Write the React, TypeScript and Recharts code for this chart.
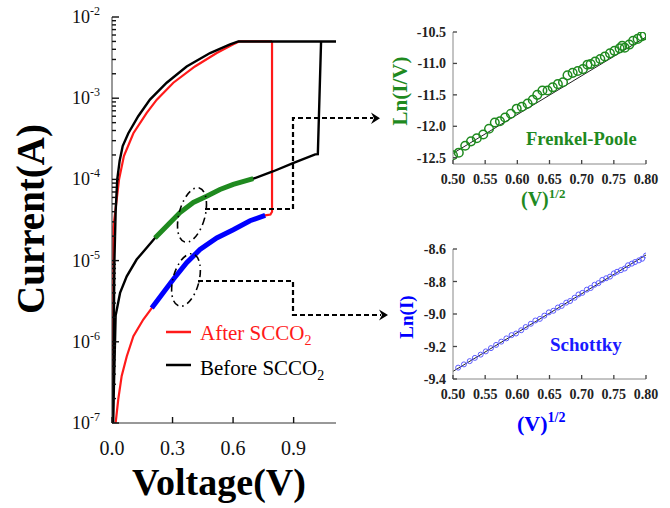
import { ComposedChart, Line, Scatter, XAxis, YAxis } from "recharts";

// I-V sweeps, voltage (V) vs current (A)
const beforeHigh = [
  { v: 0.005, i: 1e-7 }, { v: 0.008, i: 1e-6 }, { v: 0.012, i: 1e-5 }, { v: 0.018, i: 4e-5 },
  { v: 0.026, i: 1e-4 }, { v: 0.038, i: 1.7e-4 }, { v: 0.053, i: 2.57e-4 }, { v: 0.081, i: 3.7e-4 },
  { v: 0.13, i: 6e-4 }, { v: 0.188, i: 9.6e-4 }, { v: 0.271, i: 1.55e-3 }, { v: 0.37, i: 2.46e-3 },
  { v: 0.486, i: 3.6e-3 }, { v: 0.585, i: 4.6e-3 }, { v: 0.626, i: 5e-3 }, { v: 1.11, i: 5e-3 },
];
// region later fitted with Frenkel-Poole (drawn in green)
const frenkelFit = [
  { v: 0.213, i: 1.9e-5 }, { v: 0.28, i: 2.8e-5 }, { v: 0.337, i: 3.9e-5 }, { v: 0.403, i: 5.2e-5 },
  { v: 0.469, i: 6.2e-5 }, { v: 0.535, i: 7.5e-5 }, { v: 0.601, i: 8.7e-5 }, { v: 0.7, i: 1.02e-4 },
];
const beforeLow = [
  { v: 0.005, i: 1e-7 }, { v: 0.012, i: 5e-7 }, { v: 0.018, i: 2.1e-6 }, { v: 0.04, i: 4e-6 },
  { v: 0.073, i: 6.4e-6 }, { v: 0.122, i: 1.03e-5 }, { v: 0.172, i: 1.44e-5 },
  ...frenkelFit,
  { v: 0.8, i: 1.26e-4 }, { v: 0.9, i: 1.6e-4 }, { v: 1.007, i: 2.03e-4 },
  { v: 1.02, i: 2.05e-4 }, { v: 1.036, i: 5e-3 },
];
const afterHigh = [
  { v: 0.004, i: 1e-7 }, { v: 0.007, i: 2.6e-5 }, { v: 0.023, i: 5.6e-5 }, { v: 0.035, i: 1e-4 },
  { v: 0.059, i: 1.94e-4 }, { v: 0.106, i: 3.7e-4 }, { v: 0.172, i: 6.6e-4 }, { v: 0.222, i: 9.6e-4 },
  { v: 0.304, i: 1.55e-3 }, { v: 0.411, i: 2.46e-3 }, { v: 0.519, i: 3.6e-3 }, { v: 0.601, i: 4.6e-3 },
  { v: 0.63, i: 5e-3 }, { v: 0.793, i: 5e-3 },
];
// region later fitted with Schottky emission (drawn in blue)
const schottkyFit = [
  { v: 0.197, i: 2.6e-6 }, { v: 0.25, i: 3.9e-6 }, { v: 0.304, i: 5.9e-6 }, { v: 0.37, i: 9.4e-6 },
  { v: 0.436, i: 1.37e-5 }, { v: 0.519, i: 1.9e-5 }, { v: 0.601, i: 2.4e-5 }, { v: 0.684, i: 3.1e-5 },
  { v: 0.759, i: 3.6e-5 },
];
const afterLow = [
  { v: 0.018, i: 1e-7 }, { v: 0.031, i: 1.95e-7 }, { v: 0.048, i: 3.8e-7 }, { v: 0.073, i: 6.6e-7 },
  { v: 0.106, i: 1.17e-6 }, { v: 0.155, i: 1.88e-6 },
  ...schottkyFit,
  { v: 0.785, i: 3.7e-5 }, { v: 0.793, i: 4e-5 }, { v: 0.793, i: 5e-3 },
];

const decades = [1e-7, 1e-6, 1e-5, 1e-4, 1e-3, 1e-2];
const minorMultipliers = [2, 3, 4, 5, 6, 7, 8, 9];
const logTicks = [
  ...decades,
  ...decades.slice(0, -1).flatMap((d) => minorMultipliers.map((k) => k * d)),
];
const voltTicks = [0, 0.3, 0.6, 0.9];

// Frenkel-Poole inset: sqrt(V) vs ln(I/V)
const fpPoints = [
  { x: 0.5, y: -12.46 }, { x: 0.509, y: -12.42 }, { x: 0.519, y: -12.31 }, { x: 0.528, y: -12.24 },
  { x: 0.537, y: -12.19 }, { x: 0.547, y: -12.13 }, { x: 0.556, y: -12.04 }, { x: 0.565, y: -11.94 },
  { x: 0.573, y: -11.92 }, { x: 0.581, y: -11.86 }, { x: 0.59, y: -11.8 }, { x: 0.599, y: -11.72 },
  { x: 0.607, y: -11.69 }, { x: 0.616, y: -11.64 }, { x: 0.624, y: -11.58 }, { x: 0.631, y: -11.5 },
  { x: 0.639, y: -11.43 }, { x: 0.647, y: -11.43 }, { x: 0.655, y: -11.38 }, { x: 0.663, y: -11.33 },
  { x: 0.671, y: -11.3 }, { x: 0.678, y: -11.19 }, { x: 0.686, y: -11.15 }, { x: 0.694, y: -11.12 },
  { x: 0.702, y: -11.09 }, { x: 0.709, y: -11.02 }, { x: 0.714, y: -11.01 }, { x: 0.721, y: -10.97 },
  { x: 0.729, y: -10.93 }, { x: 0.736, y: -10.89 }, { x: 0.744, y: -10.84 }, { x: 0.751, y: -10.8 },
  { x: 0.759, y: -10.76 }, { x: 0.763, y: -10.72 }, { x: 0.767, y: -10.75 }, { x: 0.774, y: -10.7 },
  { x: 0.78, y: -10.64 }, { x: 0.787, y: -10.61 }, { x: 0.793, y: -10.57 }, { x: 0.798, y: -10.55 },
];
const fpLine = [{ x: 0.5, y: -12.43 }, { x: 0.8, y: -10.58 }];
const fpYTicks = [-12.5, -12, -11.5, -11, -10.5];

// Schottky inset: sqrt(V) vs ln(I)
const skPoints = [
  { x: 0.508, y: -9.33 }, { x: 0.517, y: -9.31 }, { x: 0.526, y: -9.29 }, { x: 0.534, y: -9.27 },
  { x: 0.543, y: -9.25 }, { x: 0.551, y: -9.23 }, { x: 0.559, y: -9.21 }, { x: 0.567, y: -9.19 },
  { x: 0.575, y: -9.17 }, { x: 0.583, y: -9.15 }, { x: 0.591, y: -9.13 }, { x: 0.598, y: -9.12 },
  { x: 0.606, y: -9.1 }, { x: 0.613, y: -9.08 }, { x: 0.621, y: -9.06 }, { x: 0.628, y: -9.04 },
  { x: 0.635, y: -9.03 }, { x: 0.642, y: -9.01 }, { x: 0.649, y: -8.99 }, { x: 0.656, y: -8.98 },
  { x: 0.663, y: -8.96 }, { x: 0.669, y: -8.95 }, { x: 0.676, y: -8.93 }, { x: 0.682, y: -8.92 },
  { x: 0.689, y: -8.9 }, { x: 0.695, y: -8.88 }, { x: 0.701, y: -8.87 }, { x: 0.708, y: -8.85 },
  { x: 0.714, y: -8.84 }, { x: 0.72, y: -8.82 }, { x: 0.726, y: -8.81 }, { x: 0.732, y: -8.79 },
  { x: 0.738, y: -8.78 }, { x: 0.744, y: -8.77 }, { x: 0.75, y: -8.75 }, { x: 0.755, y: -8.74 },
  { x: 0.761, y: -8.73 }, { x: 0.767, y: -8.72 }, { x: 0.772, y: -8.7 }, { x: 0.778, y: -8.69 },
  { x: 0.783, y: -8.68 }, { x: 0.789, y: -8.67 }, { x: 0.794, y: -8.66 }, { x: 0.8, y: -8.64 },
];
const skLine = [{ x: 0.5, y: -9.353 }, { x: 0.8, y: -8.637 }];
const skYTicks = [-9.4, -9.2, -9, -8.8, -8.6];

const sqrtTicks = [0.5, 0.55, 0.6, 0.65, 0.7, 0.75, 0.8];

const SERIF = "'Liberation Serif', 'Times New Roman', serif";
const RED = "#ff1a1a";
const GREEN = "#1f8a1f";
const BLUE = "#0000ff";
const LOG_DOMAIN: [number, number] = [1e-7, 1e-2];

function isMajor(val: number) {
  const e = Math.round(Math.log10(val));
  return Math.abs(val / Math.pow(10, e) - 1) < 1e-6;
}

// log axis ticks: inward mark, label only on decades
function LogTickLeft(props: any) {
  const { x, y, payload } = props;
  const major = isMajor(payload.value);
  const exp = Math.round(Math.log10(payload.value));
  return (
    <g>
      <line x1={x} x2={x + (major ? 7 : 4)} y1={y} y2={y} stroke="#111" strokeWidth={1.4} />
      {major && (
        <text x={x - 12} y={y + 6} textAnchor="end" fontFamily={SERIF} fontSize={18} fill="#111">
          <tspan>10</tspan>
          <tspan dy={-8} fontSize={12}>{exp}</tspan>
        </text>
      )}
    </g>
  );
}

function LogTickRight(props: any) {
  const { x, y, payload } = props;
  const major = isMajor(payload.value);
  return <line x1={x} x2={x - (major ? 7 : 4)} y1={y} y2={y} stroke="#111" strokeWidth={1.4} />;
}

function VoltTick(props: any) {
  const { x, y, payload } = props;
  return (
    <g>
      <line x1={x} x2={x} y1={y} y2={y - 6} stroke="#111" strokeWidth={1.4} />
      <text x={x} y={y + 32} textAnchor="middle" fontFamily={SERIF} fontSize={20} fill="#111">
        {payload.value.toFixed(1)}
      </text>
    </g>
  );
}

function InsetYTick(props: any) {
  const { x, y, payload } = props;
  return (
    <g>
      <line x1={x} x2={x + 4} y1={y} y2={y} stroke="#444" strokeWidth={1.3} />
      <text x={x - 7} y={y + 5} textAnchor="end" fontFamily={SERIF} fontWeight="bold" fontSize={14} fill="#222">
        {payload.value.toFixed(1)}
      </text>
    </g>
  );
}

function InsetXTick(props: any) {
  const { x, y, payload } = props;
  return (
    <g>
      <line x1={x} x2={x} y1={y} y2={y - 4} stroke="#444" strokeWidth={1.3} />
      <text x={x} y={y + 20} textAnchor="middle" fontFamily={SERIF} fontWeight="bold" fontSize={14} fill="#222">
        {payload.value.toFixed(2)}
      </text>
    </g>
  );
}

function MainChart() {
  return (
    <ComposedChart width={340} height={508} margin={{ top: 17, right: 4, bottom: 0, left: 0 }}>
      <XAxis
        dataKey="v" type="number" domain={[0, 1.11]} allowDataOverflow ticks={voltTicks} interval={0}
        height={85} tickSize={0} tickMargin={0} tickLine={false} tick={(p: any) => <VoltTick {...p} />}
        axisLine={{ stroke: "#333" }}
      />
      <XAxis
        xAxisId="top" orientation="top" type="number" domain={[0, 1.11]} allowDataOverflow height={0}
        tick={false} tickLine={false} axisLine={{ stroke: "#333" }}
      />
      <YAxis
        type="number" scale="log" domain={LOG_DOMAIN} allowDataOverflow ticks={logTicks} interval={0}
        width={112} tickSize={0} tickMargin={0} tickLine={false} tick={(p: any) => <LogTickLeft {...p} />}
        axisLine={{ stroke: "#333" }}
      />
      <YAxis
        yAxisId="r" orientation="right" type="number" scale="log" domain={LOG_DOMAIN} allowDataOverflow
        ticks={logTicks} interval={0} width={0} tickSize={0} tickMargin={0} tickLine={false}
        tick={(p: any) => <LogTickRight {...p} />} axisLine={{ stroke: "#333" }}
      />
      <Line data={afterHigh} dataKey="i" stroke={RED} strokeWidth={2.2} dot={false} isAnimationActive={false} />
      <Line data={afterLow} dataKey="i" stroke={RED} strokeWidth={2.2} dot={false} isAnimationActive={false} />
      <Line data={beforeHigh} dataKey="i" stroke="#000" strokeWidth={2.4} dot={false} isAnimationActive={false} />
      <Line data={beforeLow} dataKey="i" stroke="#000" strokeWidth={2.4} dot={false} isAnimationActive={false} />
      <Line data={frenkelFit} dataKey="i" stroke={GREEN} strokeWidth={5} dot={false} isAnimationActive={false} />
      <Line data={schottkyFit} dataKey="i" stroke={BLUE} strokeWidth={5} dot={false} isAnimationActive={false} />
    </ComposedChart>
  );
}

function Inset(props: {
  points: { x: number; y: number }[];
  fit: { x: number; y: number }[];
  yDomain: [number, number];
  yTicks: number[];
  top: number;
  bottom: number;
  color: string;
  radius: number;
}) {
  const { points, fit, yDomain, yTicks, top, bottom, color, radius } = props;
  return (
    <ComposedChart width={330} height={230} margin={{ top, right: 24, bottom: 0, left: 0 }}>
      <XAxis
        dataKey="x" type="number" domain={[0.5, 0.8]} allowDataOverflow ticks={sqrtTicks} interval={0}
        height={bottom} tickSize={0} tickMargin={0} tickLine={false} tick={(p: any) => <InsetXTick {...p} />}
        axisLine={{ stroke: "#888" }}
      />
      <XAxis
        xAxisId="top" orientation="top" type="number" domain={[0.5, 0.8]} allowDataOverflow height={0}
        tick={false} tickLine={false} axisLine={{ stroke: "#888" }}
      />
      <YAxis
        dataKey="y" type="number" domain={yDomain} allowDataOverflow ticks={yTicks} interval={0}
        width={113} tickSize={0} tickMargin={0} tickLine={false} tick={(p: any) => <InsetYTick {...p} />}
        axisLine={{ stroke: "#888" }}
      />
      <YAxis
        yAxisId="r" orientation="right" type="number" domain={yDomain} allowDataOverflow width={0}
        tick={false} tickLine={false} axisLine={{ stroke: "#888" }}
      />
      <Line data={fit} dataKey="y" stroke="#222" strokeWidth={1} dot={false} isAnimationActive={false} />
      <Scatter
        data={points}
        dataKey="y"
        isAnimationActive={false}
        shape={(p: any) => (
          <circle cx={p.cx} cy={p.cy} r={radius} fill="none" stroke={color} strokeWidth={radius > 3 ? 1.5 : 1} />
        )}
      />
    </ComposedChart>
  );
}

function Overlay() {
  const dash = { stroke: "#000", strokeWidth: 2.2, strokeDasharray: "5 3", fill: "none" };
  const dashDot = { stroke: "#000", strokeWidth: 1.6, strokeDasharray: "7 4 1.5 4", fill: "none" };
  return (
    <svg width={670} height={508} style={{ position: "absolute", left: 0, top: 0, pointerEvents: "none" }}>
      {/* axis titles */}
      <text
        x={44} y={219} transform="rotate(-90 44 219)" textAnchor="middle"
        fontFamily={SERIF} fontWeight="bold" fontSize={39} fill="#000"
      >
        Current(A)
      </text>
      <text x={219} y={495} textAnchor="middle" fontFamily={SERIF} fontWeight="bold" fontSize={38} fill="#000">
        Voltage(V)
      </text>

      {/* legend */}
      <line x1={166} x2={191} y1={332} y2={332} stroke={RED} strokeWidth={2.5} />
      <text x={200} y={340} fontFamily={SERIF} fontSize={21} fill={RED}>
        After SCCO<tspan dy={5} fontSize={14}>2</tspan>
      </text>
      <line x1={166} x2={191} y1={365} y2={365} stroke="#000" strokeWidth={2.5} />
      <text x={200} y={375} fontFamily={SERIF} fontSize={21} fill="#000">
        Before SCCO<tspan dy={5} fontSize={14}>2</tspan>
      </text>

      {/* ellipses marking fitted ranges */}
      <ellipse cx={192} cy={215} rx={13} ry={28} transform="rotate(15 192 215)" {...dashDot} />
      <ellipse cx={186} cy={280} rx={13} ry={27} transform="rotate(15 186 280)" {...dashDot} />

      {/* connectors to insets */}
      <path d="M205 209 H293 V118 H373" {...dash} />
      <polygon points="371,112.5 380,118.3 371,124 374,118.3" fill="#000" />
      <path d="M198 281 H293 V315 H381" {...dash} />
      <polygon points="379,309.5 388,315 379,320.5 382,315" fill="#000" />

      {/* inset titles */}
      <text
        x={407} y={91} transform="rotate(-90 407 91)" textAnchor="middle"
        fontFamily={SERIF} fontWeight="bold" fontSize={21} fill={GREEN}
      >
        Ln(I/V)
      </text>
      <text x={521} y={206} fontFamily={SERIF} fontWeight="bold" fontSize={20} fill={GREEN}>
        (V)<tspan dy={-8} fontSize={13}>1/2</tspan>
      </text>
      <text x={526} y={145} fontFamily={SERIF} fontWeight="bold" fontSize={18.5} fill={GREEN}>
        Frenkel-Poole
      </text>

      <text
        x={413} y={317} transform="rotate(-90 413 317)" textAnchor="middle"
        fontFamily={SERIF} fontWeight="bold" fontSize={19} fill={BLUE}
      >
        Ln(I)
      </text>
      <text x={517} y={431} fontFamily={SERIF} fontWeight="bold" fontSize={22} fill={BLUE}>
        (V)<tspan dy={-9} fontSize={14}>1/2</tspan>
      </text>
      <text x={550} y={351} fontFamily={SERIF} fontWeight="bold" fontSize={19} fill="#1a1aff">
        Schottky
      </text>
    </svg>
  );
}

export default function App() {
  return (
    <div style={{ position: "relative", width: 670, height: 508, background: "#fff", overflow: "hidden" }}>
      <style>{"body{margin:0}"}</style>
      <div style={{ position: "absolute", left: 0, top: 0 }}>
        <MainChart />
      </div>
      <div style={{ position: "absolute", left: 340, top: 0 }}>
        <Inset
          points={fpPoints} fit={fpLine} yDomain={[-12.6, -10.5]} yTicks={fpYTicks}
          top={32} bottom={66} color={GREEN} radius={4.3}
        />
      </div>
      <div style={{ position: "absolute", left: 340, top: 230 }}>
        <Inset
          points={skPoints} fit={skLine} yDomain={[-9.4, -8.6]} yTicks={skYTicks}
          top={19} bottom={81} color="#5a5aff" radius={2.5}
        />
      </div>
      <Overlay />
    </div>
  );
}
